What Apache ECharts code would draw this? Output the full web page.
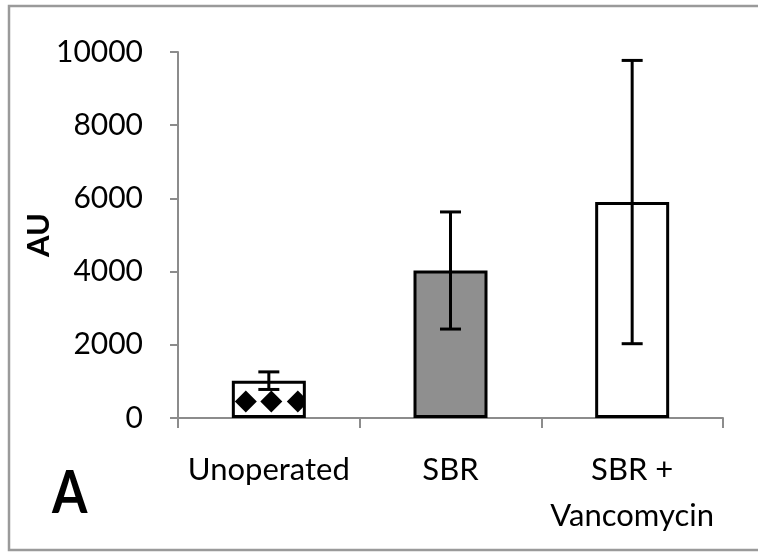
<!DOCTYPE html>
<html>
<head>
<meta charset="utf-8">
<script src="https://cdn.jsdelivr.net/npm/echarts@6/dist/echarts.min.js"></script>
<style>
  html, body { margin: 0; padding: 0; background: #fff; }
  #chart { width: 758px; height: 553px; }
</style>
</head>
<body>
<div id="chart"></div>
<script>
// Groups, group means and error (± spread) in arbitrary units
const categories = ['Unoperated', 'SBR', 'SBR +\nVancomycin'];
const means = [1020, 4030, 5900];
const errors = [240, 1600, 3870];
const yTicks = [0, 2000, 4000, 6000, 8000, 10000];
const panelLabel = 'A';
const yTitle = 'AU';

const FONT = 'Lato, "Open Sans", sans-serif';
const AXIS_GREY = '#8c8c8c';
const BAR_WIDTH = 74;
const BORDER = 3;

// Bar fills: hatched (diamond) white, solid grey, plain white
const barFills = ['#ffffff', '#8f8f8f', '#ffffff'];

const chart = echarts.init(document.getElementById('chart'), null, { renderer: 'canvas' });

// Diamond motif along the bottom of the first bar, clipped to its inside
function renderDiamonds(params, api) {
  const idx = api.value(0);
  const val = api.value(1);
  const base = api.coord([idx, 0]);
  const top = api.coord([idx, val]);
  const cx = base[0];
  const half = BAR_WIDTH / 2 - BORDER / 2;
  const clip = {
    type: 'rect',
    shape: { x: cx - half, y: top[1] + BORDER / 2, width: half * 2, height: base[1] - top[1] - BORDER / 2 }
  };
  const offsets = [-23, 2.5, 29];
  const r = 11;
  const cy = base[1] - 16.5;
  const children = offsets.map(function (dx) {
    const x = cx + dx;
    return {
      type: 'polygon',
      shape: { points: [[x, cy - r], [x + r, cy], [x, cy + r], [x - r, cy]] },
      style: { fill: '#000' }
    };
  });
  return { type: 'group', clipPath: clip, children: children };
}

// Vertical error bar with caps, from mean - err to mean + err
function renderErrorBar(params, api) {
  const idx = api.value(0);
  const m = api.value(1);
  const e = api.value(2);
  const hi = api.coord([idx, m + e]);
  const lo = api.coord([idx, m - e]);
  const cap = 10.5;
  const st = { stroke: '#000', lineWidth: 3 };
  return {
    type: 'group',
    children: [
      { type: 'line', shape: { x1: hi[0], y1: hi[1], x2: lo[0], y2: lo[1] }, style: st },
      { type: 'line', shape: { x1: hi[0] - cap, y1: hi[1], x2: hi[0] + cap, y2: hi[1] }, style: st },
      { type: 'line', shape: { x1: lo[0] - cap, y1: lo[1], x2: lo[0] + cap, y2: lo[1] }, style: st }
    ]
  };
}

const option = {
  backgroundColor: '#ffffff',
  animation: false,
  grid: { left: 178, right: 35, top: 52, bottom: 135, outerBoundsMode: 'none' },
  xAxis: {
    type: 'category',
    data: categories,
    boundaryGap: true,
    axisLine: { lineStyle: { color: AXIS_GREY, width: 2 } },
    axisTick: { show: true, length: 10, interval: 0, lineStyle: { color: AXIS_GREY, width: 2 } },
    axisLabel: {
      interval: 0,
      margin: 29,
      color: '#000',
      fontFamily: FONT,
      fontSize: 31,
      lineHeight: 46
    }
  },
  yAxis: {
    type: 'value',
    min: yTicks[0],
    max: yTicks[yTicks.length - 1],
    interval: yTicks[1] - yTicks[0],
    name: yTitle,
    nameLocation: 'middle',
    nameRotate: 90,
    nameGap: 124,
    nameMoveOverlap: false,
    nameTextStyle: { color: '#000', fontFamily: FONT, fontSize: 31, fontWeight: 'bold' },
    splitLine: { show: false },
    axisLine: { show: true, lineStyle: { color: AXIS_GREY, width: 2 } },
    axisTick: { show: true, length: 8, lineStyle: { color: AXIS_GREY, width: 2 } },
    axisLabel: {
      margin: 35,
      color: '#000',
      fontFamily: FONT,
      fontSize: 30,
      formatter: function (v) { return String(v); }
    }
  },
  series: [
    {
      type: 'bar',
      barWidth: BAR_WIDTH,
      data: means.map(function (v, i) {
        return {
          value: v,
          itemStyle: { color: barFills[i], borderColor: '#000', borderWidth: BORDER }
        };
      }),
      z: 2
    },
    {
      type: 'custom',
      renderItem: renderDiamonds,
      data: [[0, means[0]]],
      z: 3
    },
    {
      type: 'custom',
      renderItem: renderErrorBar,
      data: categories.map(function (c, i) { return [i, means[i], errors[i]]; }),
      z: 4
    }
  ],
  graphic: [
    {
      type: 'rect',
      shape: { x: 9, y: 6, width: 770, height: 544 },
      style: { fill: 'none', stroke: '#9a9a9a', lineWidth: 2.5 },
      z: 0
    },
    {
      type: 'text',
      x: 52,
      y: 494,
      scaleX: 0.85,
      style: {
        text: panelLabel,
        fill: '#000',
        font: 'bold 60px ' + FONT,
        verticalAlign: 'middle',
        align: 'left'
      },
      z: 5
    }
  ]
};

chart.setOption(option);
</script>
</body>
</html>
